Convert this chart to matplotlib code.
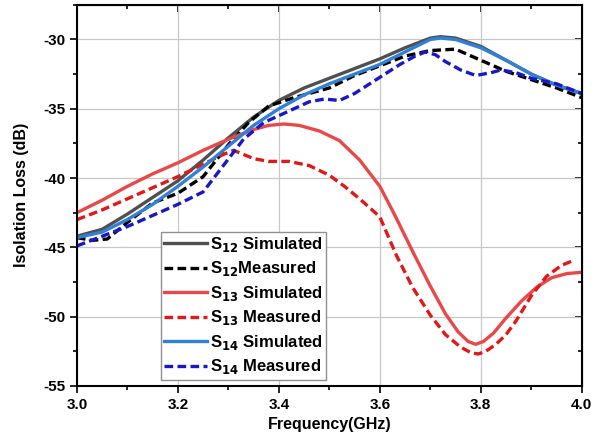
#=======================================================================
# PROGRAM IMPORTS ------------------------------------------------------
import matplotlib
matplotlib.use("Agg")
import matplotlib.pyplot as plt
from matplotlib.ticker import MultipleLocator

# PROGRAM CONSTANTS ----------------------------------------------------
plt.rcParams['font.family'] = ['Liberation Sans', 'DejaVu Sans']
plt.rcParams['font.weight'] = 'bold'
plt.rcParams['mathtext.default'] = 'bf'
plt.rcParams['axes.unicode_minus'] = False

# S12 / S14 simulated share a frequency grid
freq_sim = [3.0, 3.05, 3.1, 3.15, 3.2, 3.25, 3.3, 3.35, 3.4, 3.45, 3.5,
            3.55, 3.6, 3.65, 3.7, 3.72, 3.75, 3.8, 3.85, 3.9, 3.95, 4.0]
s12_sim = [-44.2, -43.7, -42.6, -41.4, -40.2, -38.7, -37.1, -35.6, -34.4,
           -33.5, -32.8, -32.1, -31.4, -30.6, -29.9, -29.8, -29.9, -30.5,
           -31.5, -32.5, -33.3, -33.9]
s14_sim = [-44.3, -43.9, -43.0, -41.9, -40.6, -39.2, -37.7, -36.2, -35.0,
           -34.0, -33.2, -32.5, -31.8, -30.9, -30.0, -29.9, -30.0, -30.6,
           -31.5, -32.5, -33.3, -33.9]

freq_s12m = [3.0, 3.03, 3.06, 3.1, 3.15, 3.2, 3.25, 3.3, 3.34, 3.38, 3.43,
             3.5, 3.55, 3.6, 3.65, 3.7, 3.75, 3.8, 3.85, 3.9, 3.95, 4.0]
s12_meas = [-44.3, -44.5, -44.4, -43.2, -41.8, -41.1, -39.9, -37.6, -36.0,
            -34.8, -34.2, -33.5, -32.6, -31.9, -31.2, -30.8, -30.7, -31.5,
            -32.3, -32.9, -33.5, -34.2]

freq_s13s = [3.0, 3.05, 3.1, 3.15, 3.2, 3.25, 3.3, 3.35, 3.38, 3.41, 3.44,
             3.48, 3.52, 3.56, 3.6, 3.63, 3.665, 3.7, 3.73, 3.755, 3.775,
             3.79, 3.805, 3.825, 3.85, 3.88, 3.91, 3.94, 3.97, 4.0]
s13_sim = [-42.5, -41.6, -40.6, -39.7, -38.9, -38.0, -37.2, -36.5, -36.2,
           -36.1, -36.2, -36.6, -37.3, -38.7, -40.6, -42.7, -45.3, -47.8,
           -49.8, -51.1, -51.8, -52.0, -51.8, -51.2, -50.1, -48.9, -47.9,
           -47.2, -46.9, -46.8]

freq_s13m = [3.0, 3.05, 3.1, 3.15, 3.2, 3.25, 3.29, 3.31, 3.33, 3.35, 3.38,
             3.42, 3.46, 3.5, 3.53, 3.56, 3.6, 3.633, 3.665, 3.7, 3.73,
             3.76, 3.78, 3.795, 3.81, 3.83, 3.85, 3.87, 3.9, 3.93, 3.96, 3.98]
s13_meas = [-43.0, -42.3, -41.5, -40.7, -39.9, -39.0, -38.3, -38.0, -38.3,
            -38.6, -38.8, -38.8, -39.1, -39.8, -40.6, -41.5, -42.8, -45.6,
            -47.9, -49.9, -51.3, -52.2, -52.6, -52.7, -52.5, -52.0, -51.3,
            -50.3, -48.5, -47.1, -46.3, -46.0]

freq_s14m = [3.0, 3.05, 3.1, 3.15, 3.2, 3.25, 3.29, 3.33, 3.37, 3.43, 3.46,
             3.49, 3.52, 3.55, 3.58, 3.64, 3.67, 3.69, 3.71, 3.73, 3.76,
             3.79, 3.82, 3.84, 3.87, 3.9, 3.95, 4.0]
s14_meas = [-44.9, -44.2, -43.5, -42.7, -41.9, -41.0, -39.1, -37.2, -36.0,
            -35.0, -34.5, -34.3, -34.4, -33.9, -33.2, -31.8, -31.2, -30.9,
            -31.1, -31.6, -32.2, -32.6, -32.4, -32.2, -32.4, -32.8, -33.2,
            -33.9]

labels = [r'S$_{12}$ Simulated', r'S$_{12}$Measured', r'S$_{13}$ Simulated',
          r'S$_{13}$ Measured', r'S$_{14}$ Simulated', r'S$_{14}$ Measured']

#=======================================================================
# PROGRAM SCRIPT -------------------------------------------------------
fig = plt.figure(figsize=(6.01, 4.38), dpi=100)
ax = fig.add_axes([0.128, 0.119, 0.84, 0.870])

lw = 2.4
dash = (2.6, 1.3)
ax.plot(freq_sim, s12_sim, color='#505050', lw=lw, label=labels[0])
ax.plot(freq_s12m, s12_meas, color='black', lw=lw, ls='--', dashes=dash,
        label=labels[1])
ax.plot(freq_s13s, s13_sim, color='#e84848', lw=lw, label=labels[2])
ax.plot(freq_s13m, s13_meas, color='#e01818', lw=lw, ls='--', dashes=dash,
        label=labels[3])
ax.plot(freq_sim, s14_sim, color='#3080d8', lw=lw, label=labels[4])
ax.plot(freq_s14m, s14_meas, color='#1818c8', lw=lw, ls='--', dashes=dash,
        label=labels[5])

ax.set_xlim(3.0, 4.0)
ax.set_ylim(-55, -27.5)
ax.xaxis.set_major_locator(MultipleLocator(0.2))
ax.xaxis.set_minor_locator(MultipleLocator(0.1))
ax.yaxis.set_major_locator(MultipleLocator(5))
ax.yaxis.set_minor_locator(MultipleLocator(2.5))
ax.xaxis.set_major_formatter(plt.FormatStrFormatter('%.1f'))
ax.grid(True, which='major', color='#c8c8c8', lw=0.9)
ax.set_axisbelow(True)

ax.tick_params(which='both', direction='out', labelsize=11, width=1.2,
               top=False, right=False)
ax.tick_params(which='major', length=5)
ax.tick_params(which='minor', length=3)
# inward ticks on top and right
ax2 = ax.secondary_xaxis('top')
ax2.xaxis.set_major_locator(MultipleLocator(0.2))
ax2.xaxis.set_minor_locator(MultipleLocator(0.1))
ax2.tick_params(which='both', direction='in', labeltop=False, width=1.2)
ax2.tick_params(which='major', length=5)
ax2.tick_params(which='minor', length=3)
ay2 = ax.secondary_yaxis('right')
ay2.yaxis.set_major_locator(MultipleLocator(5))
ay2.yaxis.set_minor_locator(MultipleLocator(2.5))
ay2.tick_params(which='both', direction='in', labelright=False, width=1.2)
ay2.tick_params(which='major', length=5)
ay2.tick_params(which='minor', length=3)
for s in ax.spines.values():
    s.set_linewidth(1.5)

ax.set_xlabel('Frequency(GHz)', fontsize=11.5, fontweight='bold')
ax.set_ylabel('Isolation Loss (dB)', fontsize=11.5, fontweight='bold')
ax.yaxis.set_label_coords(-0.095, 0.5)

leg = ax.legend(loc='lower left', bbox_to_anchor=(0.166, 0.016),
                fontsize=12, frameon=True, fancybox=False,
                edgecolor='#909090', framealpha=1, handlelength=2.6,
                handletextpad=0.15, labelspacing=0.33, borderpad=0.2,
                borderaxespad=0)
leg.get_frame().set_linewidth(1.0)

fig.savefig('out.png', dpi=100)
